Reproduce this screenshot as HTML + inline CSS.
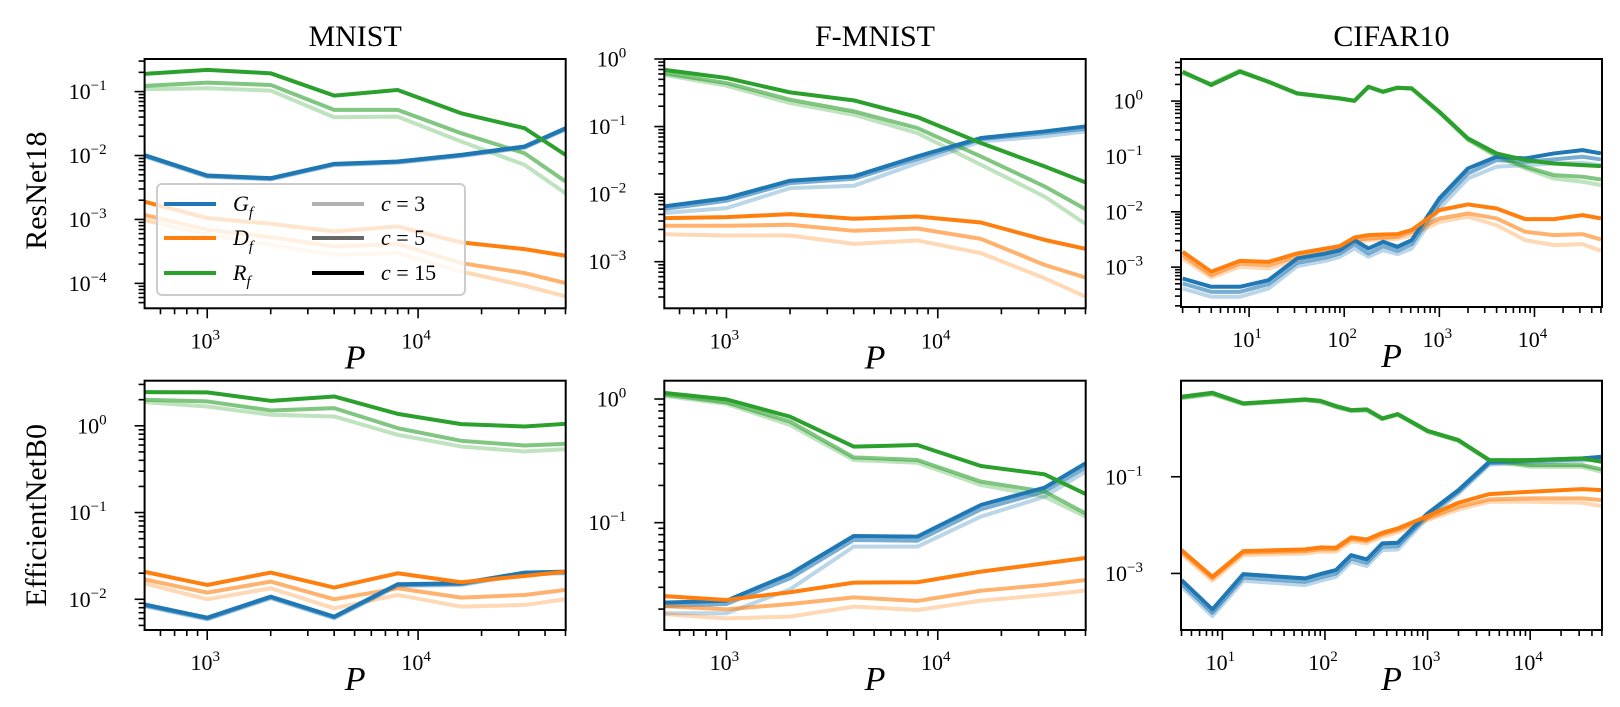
<!DOCTYPE html>
<html><head><meta charset="utf-8"><title>G_f, D_f, R_f vs P</title>
<style>
html,body{margin:0;padding:0;background:#fff;}
svg{display:block;font-family:"Liberation Serif","DejaVu Serif",serif;}
</style></head>
<body>
<svg id="fig" width="1620" height="707" viewBox="0 0 1620 707" xmlns="http://www.w3.org/2000/svg">
<rect x="0" y="0" width="1620" height="707" fill="#fff"/>
</svg>
<script>
// ---- data (log10 of metric values) ----
const P_MNIST = [500,1000,2000,4000,8000,16000,32000,50000];
const P_CIFAR_R18 = [2,4,8,16,32,64,90,128,180,256,362,512,1000,2000,4000,8000,16000,32000,50000];
const P_CIFAR_EFF = [4,8,16,64,90,128,180,256,362,512,1000,2000,4000,10000,32000,50000];

// MNIST ResNet18
const m1_G15=[-1.99,-2.313,-2.354,-2.13,-2.094,-1.99,-1.859,-1.573];
const m1_G5=[-2.0,-2.323,-2.364,-2.14,-2.104,-2.0,-1.869,-1.583];
const m1_G3=[-2.01,-2.333,-2.374,-2.15,-2.114,-2.01,-1.879,-1.593];
const m1_D15=[-2.719,-2.979,-3.068,-3.188,-3.109,-3.359,-3.464,-3.568];
const m1_D5=[-2.927,-3.161,-3.276,-3.422,-3.385,-3.682,-3.839,-3.995];
const m1_D3=[-3.005,-3.24,-3.396,-3.552,-3.526,-3.813,-4.036,-4.203];
const m1_R15=[-0.724,-0.661,-0.714,-1.063,-0.974,-1.339,-1.573,-1.99];
const m1_R5=[-0.911,-0.859,-0.896,-1.286,-1.286,-1.651,-1.964,-2.406];
const m1_R3=[-0.964,-0.948,-0.984,-1.401,-1.391,-1.781,-2.146,-2.589];
// F-MNIST ResNet18
const f1_G15=[-2.183,-2.059,-1.802,-1.738,-1.442,-1.17,-1.072,-0.998];
const f1_G5=[-2.222,-2.099,-1.837,-1.773,-1.481,-1.185,-1.096,-1.032];
const f1_G3=[-2.281,-2.207,-1.911,-1.877,-1.541,-1.22,-1.146,-1.072];
const f1_D15=[-2.356,-2.341,-2.296,-2.365,-2.331,-2.42,-2.677,-2.81];
const f1_D5=[-2.469,-2.469,-2.454,-2.543,-2.509,-2.662,-3.047,-3.235];
const f1_D3=[-2.593,-2.612,-2.612,-2.736,-2.686,-2.874,-3.244,-3.516];
const f1_R15=[-0.158,-0.281,-0.494,-0.612,-0.859,-1.244,-1.59,-1.827];
const f1_R5=[-0.207,-0.356,-0.602,-0.775,-1.022,-1.442,-1.886,-2.222];
const f1_R3=[-0.232,-0.395,-0.652,-0.825,-1.096,-1.565,-2.035,-2.44];
// CIFAR10 ResNet18
const c1_G15=[-3.205,-3.355,-3.355,-3.235,-2.843,-2.753,-2.693,-2.512,-2.663,-2.542,-2.633,-2.512,-1.759,-1.217,-1.006,-1.036,-0.946,-0.886,-0.946];
const c1_G5=[-3.295,-3.446,-3.446,-3.307,-2.922,-2.825,-2.753,-2.584,-2.753,-2.62,-2.705,-2.584,-1.849,-1.307,-1.066,-1.096,-1.054,-1.006,-1.054];
const c1_G3=[-3.386,-3.536,-3.536,-3.386,-2.982,-2.886,-2.813,-2.663,-2.813,-2.693,-2.765,-2.663,-1.94,-1.398,-1.187,-1.157,-1.127,-1.114,-1.157];
const c1_D15=[-2.723,-3.084,-2.886,-2.904,-2.753,-2.663,-2.62,-2.464,-2.422,-2.41,-2.404,-2.331,-1.97,-1.867,-1.94,-2.133,-2.133,-2.06,-2.12];
const c1_D5=[-2.783,-3.145,-2.934,-2.964,-2.813,-2.711,-2.663,-2.512,-2.482,-2.47,-2.452,-2.361,-2.12,-2.03,-2.12,-2.361,-2.422,-2.404,-2.5];
const c1_D3=[-2.843,-3.187,-2.994,-3.024,-2.873,-2.753,-2.705,-2.56,-2.512,-2.5,-2.488,-2.422,-2.181,-2.09,-2.241,-2.512,-2.602,-2.584,-2.705];
const c1_R15=[0.53,0.289,0.53,0.349,0.139,0.078,0.048,0.006,0.259,0.169,0.241,0.229,-0.193,-0.675,-0.946,-1.066,-1.127,-1.157,-1.175];
const c1_R5=[0.52,0.3,0.54,0.35,0.14,0.078,0.048,0.006,0.259,0.169,0.241,0.229,-0.2,-0.69,-0.976,-1.187,-1.337,-1.367,-1.416];
const c1_R3=[0.5,0.31,0.55,0.34,0.13,0.07,0.04,0.0,0.25,0.16,0.235,0.22,-0.21,-0.7,-1.006,-1.217,-1.398,-1.458,-1.518];
// MNIST EfficientNetB0
const m2_G15=[-2.058,-2.212,-1.969,-2.2,-1.827,-1.815,-1.692,-1.681];
const m2_G5=[-2.068,-2.222,-1.979,-2.21,-1.837,-1.825,-1.702,-1.691];
const m2_G3=[-2.078,-2.232,-1.989,-2.22,-1.847,-1.835,-1.712,-1.701];
const m2_D15=[-1.681,-1.835,-1.692,-1.865,-1.7,-1.804,-1.731,-1.681];
const m2_D5=[-1.769,-1.923,-1.796,-2.0,-1.873,-1.981,-1.95,-1.892];
const m2_D3=[-1.815,-2.0,-1.873,-2.104,-1.95,-2.085,-2.065,-2.0];
const m2_R15=[0.388,0.385,0.288,0.338,0.138,0.019,-0.008,0.023];
const m2_R5=[0.3,0.281,0.177,0.204,-0.027,-0.173,-0.227,-0.208];
const m2_R3=[0.273,0.223,0.127,0.108,-0.104,-0.238,-0.296,-0.269];
// F-MNIST EfficientNetB0
const f2_G15=[-1.647,-1.631,-1.415,-1.108,-1.113,-0.857,-0.717,-0.52];
const f2_G5=[-1.674,-1.658,-1.45,-1.14,-1.146,-0.892,-0.749,-0.553];
const f2_G3=[-1.733,-1.733,-1.539,-1.194,-1.194,-0.951,-0.79,-0.588];
const f2_D15=[-1.593,-1.625,-1.563,-1.485,-1.482,-1.396,-1.329,-1.286];
const f2_D5=[-1.674,-1.701,-1.658,-1.604,-1.633,-1.55,-1.504,-1.464];
const f2_D3=[-1.739,-1.774,-1.76,-1.679,-1.706,-1.631,-1.585,-1.55];
const f2_R15=[0.051,-0.003,-0.143,-0.385,-0.372,-0.542,-0.609,-0.768];
const f2_R5=[0.038,-0.027,-0.183,-0.472,-0.493,-0.668,-0.749,-0.925];
const f2_R3=[0.027,-0.04,-0.21,-0.493,-0.515,-0.695,-0.79,-0.951];
// CIFAR10 EfficientNetB0
const c2_G15=[-3.138,-3.745,-3.014,-3.103,-3.014,-2.931,-2.621,-2.71,-2.379,-2.366,-1.759,-1.276,-0.69,-0.655,-0.621,-0.586];
const c2_G5=[-3.207,-3.814,-3.083,-3.172,-3.083,-3.0,-2.69,-2.779,-2.448,-2.435,-1.8,-1.31,-0.72,-0.68,-0.64,-0.6];
const c2_G3=[-3.276,-3.883,-3.152,-3.241,-3.152,-3.069,-2.759,-2.848,-2.517,-2.504,-1.85,-1.35,-0.75,-0.71,-0.67,-0.63];
const c2_D15=[-2.517,-3.069,-2.538,-2.503,-2.462,-2.469,-2.255,-2.297,-2.159,-2.069,-1.814,-1.538,-1.359,-1.31,-1.255,-1.276];
const c2_D5=[-2.55,-3.1,-2.57,-2.54,-2.5,-2.5,-2.29,-2.33,-2.19,-2.1,-1.862,-1.621,-1.469,-1.448,-1.448,-1.483];
const c2_D3=[-2.6,-3.15,-2.62,-2.59,-2.55,-2.55,-2.34,-2.38,-2.24,-2.15,-1.897,-1.676,-1.517,-1.517,-1.538,-1.607];
const c2_R15=[0.655,0.738,0.517,0.6,0.572,0.462,0.379,0.393,0.207,0.297,-0.048,-0.241,-0.655,-0.655,-0.621,-0.69];
const c2_R5=[0.64,0.72,0.51,0.59,0.56,0.45,0.37,0.38,0.2,0.29,-0.06,-0.25,-0.66,-0.759,-0.759,-0.848];
const c2_R3=[0.62,0.7,0.5,0.58,0.55,0.44,0.36,0.37,0.19,0.28,-0.07,-0.26,-0.67,-0.793,-0.793,-0.897];

const titles=['MNIST','F-MNIST','CIFAR10'];
const rowLabels=['ResNet18','EfficientNetB0'];
const cLabels=['3','5','15'];

// ---- layout ----
const NS='http://www.w3.org/2000/svg';
const svg=document.getElementById('fig');
function mk(tag,attrs,parent){const e=document.createElementNS(NS,tag);for(const k in attrs)e.setAttribute(k,attrs[k]);(parent||svg).appendChild(e);return e;}
const COL={G:'#1f77b4',D:'#ff7f0e',R:'#2ca02c'};
const ALPHA=[0.3,0.6,1.0];

const panels=[
 {id:'mnist-resnet18',x0:144.6,x1:565.7,y0:59,y1:308.3,xd:[2.703,4.70],yd:[-4.39,-0.49],P:P_MNIST,s:{G:[m1_G3,m1_G5,m1_G15],D:[m1_D3,m1_D5,m1_D15],R:[m1_R3,m1_R5,m1_R15]},xmaj:[3,4],ymaj:[-1,-2,-3,-4],minorY:true},
 {id:'fmnist-resnet18',x0:664.3,x1:1085.7,y0:59,y1:308.3,xd:[2.706,4.70],yd:[-3.69,0],P:P_MNIST,s:{G:[f1_G3,f1_G5,f1_G15],D:[f1_D3,f1_D5,f1_D15],R:[f1_R3,f1_R5,f1_R15]},xmaj:[3,4],ymaj:[0,-1,-2,-3],minorY:true},
 {id:'cifar10-resnet18',x0:1181,x1:1602,y0:59,y1:307,xd:[0.284,4.71],yd:[-3.72,0.76],P:P_CIFAR_R18,s:{G:[c1_G3,c1_G5,c1_G15],D:[c1_D3,c1_D5,c1_D15],R:[c1_R3,c1_R5,c1_R15]},xmaj:[1,2,3,4],ymaj:[0,-1,-2,-3],minorY:true},
 {id:'mnist-efficientnetb0',x0:144.6,x1:565.7,y0:380.7,y1:630,xd:[2.703,4.70],yd:[-2.354,0.52],P:P_MNIST,s:{G:[m2_G3,m2_G5,m2_G15],D:[m2_D3,m2_D5,m2_D15],R:[m2_R3,m2_R5,m2_R15]},xmaj:[3,4],ymaj:[0,-1,-2],minorY:true},
 {id:'fmnist-efficientnetb0',x0:664.3,x1:1085.7,y0:380.7,y1:630,xd:[2.706,4.70],yd:[-1.868,0.148],P:P_MNIST,s:{G:[f2_G3,f2_G5,f2_G15],D:[f2_D3,f2_D5,f2_D15],R:[f2_R3,f2_R5,f2_R15]},xmaj:[3,4],ymaj:[0,-1],minorY:true},
 {id:'cifar10-efficientnetb0',x0:1181,x1:1602,y0:380.7,y1:630,xd:[0.597,4.70],yd:[-4.17,0.987],P:P_CIFAR_EFF,s:{G:[c2_G3,c2_G5,c2_G15],D:[c2_D3,c2_D5,c2_D15],R:[c2_R3,c2_R5,c2_R15]},xmaj:[1,2,3,4],ymaj:[-1,-3],minorY:false}
];

function powLabel(parent,x,y,exp,anchor,name){
  const t=mk('text',{x:x,y:y,'font-size':22,'text-anchor':anchor,fill:'#000'},parent);
  
  
  const a=mk('tspan',{},t);a.textContent='10';
  const b=mk('tspan',{dy:-9,'font-size':15},t);b.textContent=(exp<0?'\u2212':'')+Math.abs(exp);
  return t;
}

panels.forEach((p,pi)=>{
  const g=mk('g',{});
  
  
  const X=v=>p.x0+(v-p.xd[0])/(p.xd[1]-p.xd[0])*(p.x1-p.x0);
  const Y=v=>p.y1-(v-p.yd[0])/(p.yd[1]-p.yd[0])*(p.y1-p.y0);
  const cid='clip'+pi;
  const cp=mk('clipPath',{id:cid},g);
  mk('rect',{x:p.x0,y:p.y0,width:p.x1-p.x0,height:p.y1-p.y0},cp);
  const lg=mk('g',{'clip-path':'url(#'+cid+')'},g);
  
  
  [0,1,2].forEach(ci=>{
    ['G','D','R'].forEach(k=>{
      const arr=p.s[k][ci];
      const d=arr.map((v,i)=>(i?'L':'M')+X(Math.log10(p.P[i])).toFixed(2)+' '+Y(v).toFixed(2)).join(' ');
      const path=mk('path',{d:d,fill:'none',stroke:COL[k],'stroke-opacity':ALPHA[ci],'stroke-width':4,'stroke-linejoin':'round'},lg);
      
      
    });
  });
  // axes frame
  const fr=mk('rect',{x:p.x0,y:p.y0,width:p.x1-p.x0,height:p.y1-p.y0,fill:'none',stroke:'#000','stroke-width':2},g);
  
  
  // x ticks
  const xt=mk('g',{stroke:'#000','stroke-width':1.6},g);
  
  
  for(let d=Math.floor(p.xd[0]);d<=Math.ceil(p.xd[1]);d++){
    for(let k=1;k<=9;k++){
      const v=d+Math.log10(k);
      if(v<p.xd[0]-1e-6||v>p.xd[1]+1e-6)continue;
      const len=(k===1)?10:6;
      mk('line',{x1:X(v),x2:X(v),y1:p.y1,y2:p.y1+len},xt);
    }
  }
  p.xmaj.forEach(e=>{powLabel(g,X(e)-2,p.y1+40,e,'middle','x-tick-label');});
  // y ticks
  const yt=mk('g',{stroke:'#000','stroke-width':1.6},g);
  
  
  p.ymaj.forEach(e=>{mk('line',{x1:p.x0-10,x2:p.x0,y1:Y(e),y2:Y(e)},yt);});
  if(p.minorY){
    for(let d=Math.floor(p.yd[0]);d<=Math.ceil(p.yd[1]);d++){
      for(let k=2;k<=9;k++){
        const v=d+Math.log10(k);
        if(v<p.yd[0]||v>p.yd[1])continue;
        mk('line',{x1:p.x0-6,x2:p.x0,y1:Y(v),y2:Y(v)},yt);
      }
    }
  }
  p.ymaj.forEach(e=>{powLabel(g,p.x0-38,Y(e)+7.5,e,'end','y-tick-label');});
  // x-axis title P
  const pl=mk('text',{x:(p.x0+p.x1)/2,y:p.y1+60,'font-size':34,'font-style':'italic','text-anchor':'middle'},g);
  pl.textContent='P';
  
  
  if(pi<3){
    const t=mk('text',{x:(p.x0+p.x1)/2,y:46,'font-size':30,'text-anchor':'middle'},g);
    t.textContent=titles[pi];
    
    
  }
  if(pi%3===0){
    const cy=(p.y0+p.y1)/2+ (pi===0?7:10);
    const t=mk('text',{x:0,y:0,'font-size':30,'text-anchor':'middle',transform:'translate(46,'+cy+') rotate(-90)'},g);
    t.textContent=rowLabels[pi/3];
    
    
  }
});

// legend
const leg=mk('g',{});


mk('rect',{x:157,y:184,width:308,height:111,rx:5,fill:'#fff','fill-opacity':0.8,stroke:'#ccc','stroke-width':2},leg);
const legRows=[204,238,273];
[['G',COL.G],['D',COL.D],['R',COL.R]].forEach((e,i)=>{
  const ln=mk('line',{x1:164,x2:216,y1:legRows[i],y2:legRows[i],stroke:e[1],'stroke-width':4},leg);
  
  
  const t=mk('text',{x:233,y:legRows[i]+7,'font-size':22,'font-style':'italic'},leg);
  
  
  const a=mk('tspan',{},t);a.textContent=e[0];
  const b=mk('tspan',{dy:6,'font-size':15},t);b.textContent='f';
});
cLabels.forEach((c,i)=>{
  const ln=mk('line',{x1:312,x2:364,y1:legRows[i],y2:legRows[i],stroke:'#000','stroke-opacity':ALPHA[i],'stroke-width':4},leg);
  
  
  const t=mk('text',{x:381,y:legRows[i]+7,'font-size':22},leg);
  
  
  const a=mk('tspan',{'font-style':'italic'},t);a.textContent='c';
  const b=mk('tspan',{},t);b.textContent=' = '+c;
});
</script>
</body></html>
